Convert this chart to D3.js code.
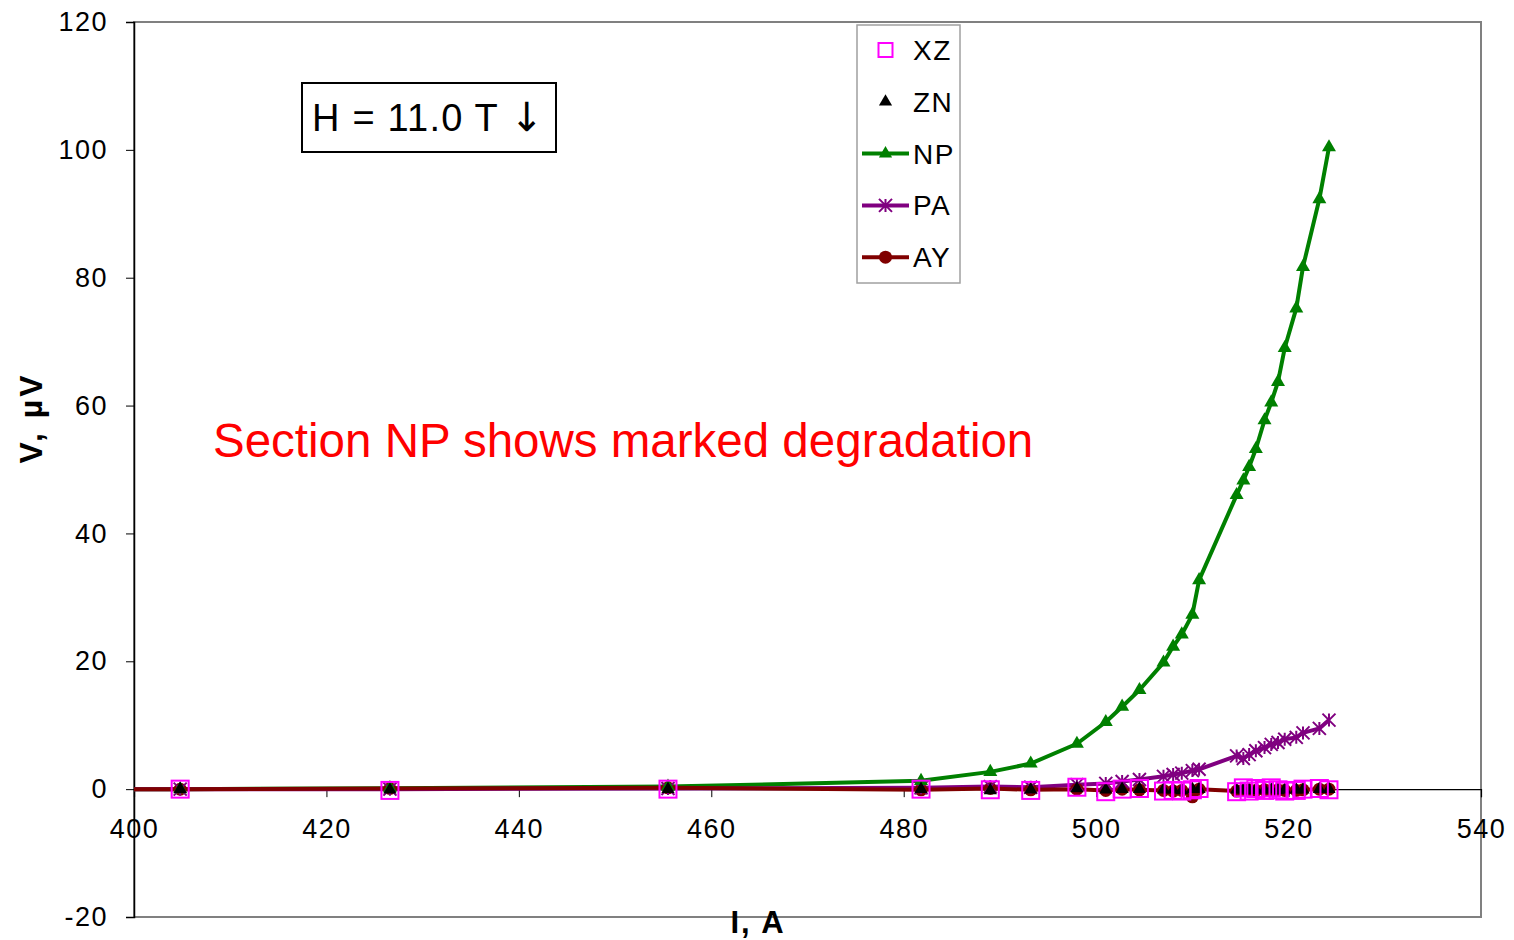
<!DOCTYPE html>
<html>
<head>
<meta charset="utf-8">
<script src="https://cdn.jsdelivr.net/npm/d3@7"></script>
<style>
  body { margin: 0; background: #fff; }
  text { font-family: "Liberation Sans", Arial, sans-serif; }
</style>
</head>
<body>
<div id="svg"></div>
<script>
// current, A (first point lies just left of the axis, clipped)
const current = [398.0, 404.8, 426.6, 455.5, 481.8, 489.0, 493.2, 498.0, 501.0, 502.7, 504.5, 507.0, 508.0, 508.9, 510.0, 510.7,
  514.6, 515.3, 515.9, 516.6, 517.5, 518.2, 518.9, 519.6, 520.8, 521.5, 523.2, 524.2]
// voltages, µV
const xz = [0.0, 0.0, -0.2, 0.0, 0.0, -0.1, -0.2, 0.3, -0.4, 0.0, 0.1, -0.3, -0.2, -0.3, -0.1, 0.1,
  -0.4, 0.2, -0.3, 0.1, -0.2, 0.2, -0.1, -0.3, -0.2, 0.0, 0.1, -0.1]
const zn = [0.0, 0.0, -0.1, 0.0, 0.0, -0.2, -0.1, 0.1, -0.1, 0.0, 0.0, -0.1, -0.1, -0.2, 0.0, 0.0,
  -0.1, -0.1, -0.2, -0.1, -0.1, -0.1, -0.2, -0.1, -0.1, -0.1, 0.0, 0.0]
const np = [0.0, 0.0, 0.15, 0.4, 1.3, 2.7, 4.0, 7.1, 10.5, 12.9, 15.5, 19.8, 22.3, 24.2, 27.3, 32.7,
  46.0, 48.3, 50.4, 53.2, 57.7, 60.5, 63.7, 69.0, 75.2, 81.7, 92.3, 100.4]
const pa = [0.0, 0.0, 0.0, 0.1, 0.2, 0.4, 0.3, 0.7, 0.9, 1.2, 1.5, 2.0, 2.3, 2.5, 2.9, 3.1,
  5.2, 4.8, 5.4, 6.0, 6.5, 7.0, 7.3, 7.8, 8.1, 8.8, 9.5, 10.8]
const ay = [0.0, 0.0, 0.1, 0.2, -0.1, 0.1, -0.1, 0.0, -0.2, 0.0, -0.1, -0.2, -0.3, -0.2, -1.2, 0.0,
  -0.3, -0.2, -0.1, -0.2, -0.1, -0.2, -0.1, -0.2, -0.2, -0.1, 0.0, 0.0]

const xTicks = [400, 420, 440, 460, 480, 500, 520, 540]
const yTicks = [-20, 0, 20, 40, 60, 80, 100, 120]

const series = [
  { name: 'XZ', vals: xz, color: '#FF00FF', line: false, marker: 'square' },
  { name: 'ZN', vals: zn, color: '#000000', line: false, marker: 'triangle' },
  { name: 'NP', vals: np, color: '#008000', line: true, marker: 'triangle' },
  { name: 'PA', vals: pa, color: '#800080', line: true, marker: 'star' },
  { name: 'AY', vals: ay, color: '#800000', line: true, marker: 'circle' }
]

const W = 1514, H = 940
const pLeft = 134, pRight = 1481, pTop = 22, pBottom = 917

const x = d3.scaleLinear().domain([400, 540]).range([pLeft, pRight])
const y = d3.scaleLinear().domain([-20, 120]).range([pBottom, pTop])

const svg = d3.select('#svg').append('svg')
  .attr('width', W).attr('height', H)

svg.append('defs').append('clipPath').attr('id', 'plot')
  .append('rect').attr('x', pLeft).attr('y', pTop).attr('width', pRight - pLeft).attr('height', pBottom - pTop)

// plot area border
svg.append('rect')
  .attr('x', pLeft).attr('y', pTop).attr('width', pRight - pLeft).attr('height', pBottom - pTop)
  .attr('fill', 'none').attr('stroke', '#808080').attr('stroke-width', 2)

// y axis
const yAxis = svg.append('g')
  .attr('transform', 'translate(' + pLeft + ',0)')
  .call(d3.axisLeft(y).tickValues(yTicks).tickSize(8).tickPadding(18).tickFormat(d => String(d)))
yAxis.select('.domain').attr('stroke', '#000').attr('stroke-width', 1.5)
yAxis.selectAll('.tick line').attr('stroke', '#000')
yAxis.selectAll('text').attr('font-size', 27).attr('fill', '#000')
  .attr('letter-spacing', 1.5)
  .attr('font-family', '"Liberation Sans", Arial, sans-serif')

// x axis crossing at 0
const xAxis = svg.append('g')
  .attr('transform', 'translate(0,' + y(0) + ')')
  .call(d3.axisBottom(x).tickValues(xTicks).tickSize(8).tickPadding(22))
xAxis.select('.domain').attr('stroke', '#000').attr('stroke-width', 1.2)
xAxis.selectAll('.tick line').attr('stroke', '#000')
xAxis.selectAll('text').attr('font-size', 27).attr('fill', '#000')
  .attr('letter-spacing', 1.5)
  .attr('font-family', '"Liberation Sans", Arial, sans-serif')

// axis titles
svg.append('text')
  .attr('transform', 'translate(42,' + 418 + ') rotate(-90)')
  .attr('text-anchor', 'middle')
  .attr('font-size', 32).attr('font-weight', 'bold').attr('letter-spacing', 3)
  .text('V, µV')

svg.append('text')
  .attr('x', 758).attr('y', 933)
  .attr('text-anchor', 'middle')
  .attr('font-size', 31).attr('font-weight', 'bold').attr('letter-spacing', 2)
  .text('I, A')

const starPath = (s) => {
  const r = s / 2
  return 'M' + (-r) + ',' + (-r) + 'L' + r + ',' + r + 'M' + (-r) + ',' + r + 'L' + r + ',' + (-r) + 'M0,' + (-r) + 'L0,' + r
}

const drawMarker = (g, type, color, cx, cy, big) => {
  if (type === 'square') {
    const s = big ? 17 : 14
    g.append('rect').attr('x', cx - s / 2).attr('y', cy - s / 2).attr('width', s).attr('height', s)
      .attr('fill', 'none').attr('stroke', color).attr('stroke-width', 2)
  } else if (type === 'triangle') {
    g.append('path').attr('transform', 'translate(' + cx + ',' + cy + ')')
      .attr('d', d3.symbol().type(d3.symbolTriangle).size(big ? 85 : 75)())
      .attr('fill', color)
  } else if (type === 'star') {
    g.append('path').attr('transform', 'translate(' + cx + ',' + cy + ')')
      .attr('d', starPath(13)).attr('stroke', color).attr('stroke-width', 2).attr('fill', 'none')
  } else if (type === 'circle') {
    g.append('circle').attr('cx', cx).attr('cy', cy).attr('r', 6.5).attr('fill', color)
  }
}

const plot = svg.append('g').attr('clip-path', 'url(#plot)')

const line = d3.line().x(d => x(d[0])).y(d => y(d[1]))

// lines
series.filter(s => s.line).forEach(s => {
  const pts = current.map((c, i) => [c, s.vals[i]])
  plot.append('path').datum(pts)
    .attr('d', line)
    .attr('fill', 'none')
    .attr('stroke', s.color)
    .attr('stroke-width', 4)
    .attr('stroke-linejoin', 'round')
})

// markers, drawn back to front
const markerOrder = ['AY', 'PA', 'NP', 'ZN', 'XZ']
markerOrder.forEach(n => {
  const s = series.find(d => d.name === n)
  const g = plot.append('g')
  current.forEach((c, i) => {
    drawMarker(g, s.marker, s.color, x(c), y(s.vals[i]), n === 'XZ' || n === 'NP')
  })
})

// legend
const lg = svg.append('g')
lg.append('rect').attr('x', 857).attr('y', 25).attr('width', 103).attr('height', 258)
  .attr('fill', '#fff').attr('stroke', '#a0a0a0').attr('stroke-width', 1.5)
series.forEach((s, i) => {
  const ly = 50 + i * 51.8
  if (s.line) {
    lg.append('line').attr('x1', 862).attr('x2', 909).attr('y1', ly).attr('y2', ly)
      .attr('stroke', s.color).attr('stroke-width', 4)
  }
  drawMarker(lg, s.marker, s.color, 885.5, ly, false)
  lg.append('text').attr('x', 913).attr('y', ly + 10)
    .attr('font-size', 28).attr('letter-spacing', 1.5).text(s.name)
})

// field annotation
svg.append('rect').attr('x', 302).attr('y', 83).attr('width', 254).attr('height', 69)
  .attr('fill', '#fff').attr('stroke', '#000').attr('stroke-width', 2)
const ht = svg.append('text').attr('x', 312).attr('y', 131)
  .attr('font-size', 38).attr('letter-spacing', 1.2)
ht.append('tspan').text('H = 11.0 T ')
ht.append('tspan').attr('font-family', '"DejaVu Sans", sans-serif').attr('font-size', 40).text('↓')

svg.append('text').attr('x', 213).attr('y', 457)
  .attr('font-size', 47.5).attr('fill', '#FF0000')
  .text('Section NP shows marked degradation')
</script>
</body>
</html>
